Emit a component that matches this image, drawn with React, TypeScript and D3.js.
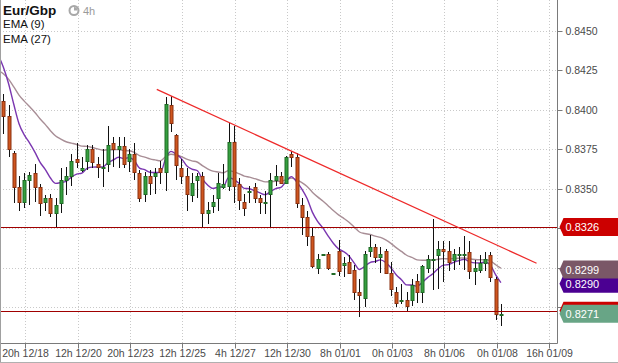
import { useEffect, useRef } from "react";
import * as d3 from "d3";

// 4h candles, EUR/GBP
const opens = [
  0.8406, 0.8396, 0.8373, 0.8351, 0.8342, 0.8356, 0.836, 0.8351, 0.8342, 0.8344,
  0.8335, 0.8341, 0.8356, 0.8358, 0.8369, 0.8362, 0.8368, 0.8375, 0.8366, 0.8363,
  0.8366, 0.8379, 0.8375, 0.8377, 0.8368, 0.8372, 0.836, 0.8347, 0.8358, 0.8358,
  0.8363, 0.8361, 0.8403, 0.8384, 0.8363, 0.8358, 0.8346, 0.8356, 0.8358, 0.8335,
  0.8339, 0.8344, 0.8351, 0.8352, 0.838, 0.8353, 0.8342, 0.8348, 0.8351, 0.8344,
  0.8341, 0.8347, 0.8356, 0.8358, 0.8354, 0.8372, 0.837, 0.834, 0.8332, 0.832,
  0.83, 0.8308, 0.8309, 0.8296, 0.8311, 0.8302, 0.8304, 0.8299, 0.8285, 0.8281,
  0.8311, 0.8313, 0.8307, 0.8311, 0.8297, 0.8285, 0.8279, 0.828, 0.828, 0.8292,
  0.8285, 0.83, 0.8305, 0.8308, 0.8312, 0.8311, 0.8305, 0.8308, 0.8308, 0.831,
  0.8298, 0.8299, 0.8303, 0.8308, 0.8293, 0.827,
];
const highs = [
  0.841, 0.8403, 0.8374, 0.8358, 0.836, 0.8361, 0.8366, 0.8353, 0.8346, 0.8347,
  0.8344, 0.8363, 0.8364, 0.8372, 0.8379, 0.837, 0.8378, 0.8378, 0.837, 0.8375,
  0.839, 0.8383, 0.8383, 0.8383, 0.8375, 0.8379, 0.8362, 0.8361, 0.8362, 0.8363,
  0.8368, 0.8408, 0.8409, 0.8385, 0.8369, 0.8363, 0.836, 0.836, 0.8361, 0.8342,
  0.8346, 0.836, 0.8366, 0.8392, 0.839, 0.8357, 0.8347, 0.8352, 0.8354, 0.8346,
  0.8349, 0.836, 0.8365, 0.8361, 0.8371, 0.8374, 0.8373, 0.8344, 0.8336, 0.8326,
  0.8309, 0.8309, 0.831, 0.8297, 0.8318, 0.8307, 0.8308, 0.8302, 0.8293, 0.8311,
  0.8321, 0.8315, 0.8313, 0.8312, 0.8304, 0.8288, 0.829, 0.8285, 0.8293, 0.8296,
  0.8302, 0.8308, 0.8331, 0.8317, 0.8317, 0.8317, 0.8312, 0.8313, 0.832, 0.8317,
  0.8305, 0.8308, 0.831, 0.831, 0.8294, 0.8277,
];
const lows = [
  0.8385, 0.837, 0.8341, 0.8336, 0.8338, 0.834, 0.8342, 0.8333, 0.8336, 0.8332,
  0.8326, 0.8335, 0.8346, 0.8352, 0.8363, 0.8361, 0.8362, 0.8363, 0.8357, 0.8351,
  0.8361, 0.8364, 0.8363, 0.8363, 0.8361, 0.8356, 0.8342, 0.8342, 0.8346, 0.8347,
  0.8353, 0.8349, 0.8386, 0.8356, 0.8353, 0.8336, 0.8342, 0.8344, 0.8326, 0.8328,
  0.8335, 0.8336, 0.835, 0.8349, 0.8341, 0.8337, 0.8333, 0.8341, 0.8341, 0.8334,
  0.8334, 0.8326, 0.8352, 0.8353, 0.8353, 0.8364, 0.8338, 0.8321, 0.8314, 0.83,
  0.8296, 0.8308, 0.8299, 0.8296, 0.8295, 0.8294, 0.8296, 0.828, 0.8269, 0.8275,
  0.8307, 0.8303, 0.8297, 0.8296, 0.8282, 0.8275, 0.8277, 0.8273, 0.8276, 0.8278,
  0.8278, 0.8297, 0.8286, 0.8287, 0.8291, 0.8298, 0.8299, 0.8302, 0.8299, 0.8293,
  0.8289, 0.8297, 0.8298, 0.8291, 0.8267, 0.8263,
];
const closes = [
  0.8396, 0.8375, 0.8351, 0.8342, 0.8356, 0.8359, 0.8351, 0.8341, 0.8344, 0.8335,
  0.834, 0.8356, 0.8358, 0.8368, 0.8367, 0.8363, 0.8375, 0.8367, 0.8364, 0.8364,
  0.8378, 0.8375, 0.8377, 0.8366, 0.8372, 0.8361, 0.8344, 0.8358, 0.8354, 0.836,
  0.8361, 0.8404, 0.8392, 0.8365, 0.8358, 0.8347, 0.8354, 0.8358, 0.8335, 0.8337,
  0.8342, 0.8354, 0.8353, 0.838, 0.8352, 0.8343, 0.8338, 0.8349, 0.8344, 0.8342,
  0.8342, 0.8356, 0.8358, 0.8354, 0.837, 0.837, 0.8341, 0.8332, 0.832, 0.8301,
  0.8306, 0.8309, 0.83, 0.8297, 0.8298, 0.8303, 0.8297, 0.8285, 0.8283, 0.8309,
  0.8313, 0.8307, 0.8309, 0.8297, 0.8287, 0.8278, 0.828, 0.8276, 0.8289, 0.8285,
  0.8301, 0.8306, 0.8306, 0.8312, 0.8311, 0.8304, 0.8309, 0.8309, 0.8309, 0.8298,
  0.83, 0.8303, 0.8306, 0.8294, 0.8271, 0.8271,
];

// EMA values just before the first visible candle
const ema9Prior = 0.8435;
const ema27Prior = 0.8425;
// last EMA values as printed on the price tags
const ema9Tag = 0.829;
const ema27Tag = 0.8299;

const xTickIdx = [4.2, 14.2, 24.2, 34.2, 44.2, 54.2, 64.2, 74.2, 84.2, 94.2, 104.2];
const xTickLabels = [
  "20h 12/18", "12h 12/20", "20h 12/23", "12h 12/25", "4h 12/27", "12h 12/30",
  "8h 01/01", "0h 01/03", "8h 01/06", "0h 01/08", "16h 01/09",
];
const yTicks = [0.8475, 0.845, 0.8425, 0.84, 0.8375, 0.835, 0.8325, 0.83, 0.8275, 0.825];

const hLines = [0.8326, 0.8273];
const trendIdx = [29.3, 101.8];
const trendPrice = [0.8413, 0.8303];

export default function App() {
  const ref = useRef<SVGSVGElement>(null);

  useEffect(() => {
    if (!ref.current) return;
    const svg = d3.select(ref.current);
    svg.selectAll("*").remove();

    const W = 618;
    const H = 363;
    const plotR = 557.5;
    const plotB = 343.5;
    const font = "'Liberation Sans', Arial, sans-serif";
    const fmt = d3.format(".4f");
    const lastClose = closes[closes.length - 1];

    const x = d3.scaleLinear().domain([-0.63, 105.8]).range([0, plotR]);
    const y = d3.scaleLinear().domain([0.835, 0.845]).range([189, 31]);

    svg.append("rect").attr("width", W).attr("height", H).attr("fill", "#fff");

    svg
      .append("defs")
      .append("clipPath")
      .attr("id", "plot")
      .append("rect")
      .attr("x", 0)
      .attr("y", 0)
      .attr("width", plotR)
      .attr("height", plotB);

    // grid
    const grid = svg.append("g").attr("stroke", "#c9c9c9").attr("stroke-dasharray", "1,2");
    yTicks.forEach((t) => {
      const yy = Math.round(y(t)) + 0.5;
      if (yy < 0 || yy > plotB) return;
      grid.append("line").attr("x1", 0).attr("x2", plotR).attr("y1", yy).attr("y2", yy);
    });
    xTickIdx.forEach((t) => {
      const xx = Math.round(x(t)) + 0.5;
      grid.append("line").attr("x1", xx).attr("x2", xx).attr("y1", 0).attr("y2", plotB);
    });

    const plot = svg.append("g").attr("clip-path", "url(#plot)");

    // EMAs
    const emaOf = (n: number, prior: number) => {
      const k = 2 / (n + 1);
      const out: [number, number][] = [[-1, prior]];
      let e = prior;
      closes.forEach((c, i) => {
        e = e + k * (c - e);
        out.push([i, e]);
      });
      return out;
    };
    const line = d3
      .line<[number, number]>()
      .x((d) => x(d[0]))
      .y((d) => y(d[1]))
      .curve(d3.curveMonotoneX);
    plot
      .append("path")
      .attr("d", line(emaOf(27, ema27Prior)))
      .attr("fill", "none")
      .attr("stroke", "#a88e96")
      .attr("stroke-width", 1.4);
    plot
      .append("path")
      .attr("d", line(emaOf(9, ema9Prior)))
      .attr("fill", "none")
      .attr("stroke", "#7a36b0")
      .attr("stroke-width", 1.4);

    // candles
    const cg = plot.append("g");
    d3.range(closes.length).forEach((i) => {
      const cx = Math.round(x(i)) + 0.5;
      const up = closes[i] >= opens[i];
      cg.append("line")
        .attr("x1", cx)
        .attr("x2", cx)
        .attr("y1", Math.round(y(highs[i])))
        .attr("y2", Math.round(y(lows[i])))
        .attr("stroke", "#111")
        .attr("stroke-width", 1);
      const top = Math.round(y(Math.max(opens[i], closes[i])));
      const bot = Math.round(y(Math.min(opens[i], closes[i])));
      cg.append("rect")
        .attr("x", cx - 1.5)
        .attr("y", top + 0.5)
        .attr("width", 3)
        .attr("height", Math.max(1, bot - top))
        .attr("fill", up ? "#35a03f" : "#d0561e")
        .attr("stroke", up ? "#1f6a25" : "#8a3010")
        .attr("stroke-width", 1);
    });

    // horizontal levels and trend line
    hLines.forEach((p) => {
      const yy = Math.round(y(p)) + 0.5;
      plot
        .append("line")
        .attr("x1", 0)
        .attr("x2", plotR)
        .attr("y1", yy)
        .attr("y2", yy)
        .attr("stroke", "#a00000")
        .attr("stroke-width", 1);
    });
    plot
      .append("line")
      .attr("x1", x(trendIdx[0]))
      .attr("y1", y(trendPrice[0]))
      .attr("x2", x(trendIdx[1]))
      .attr("y2", y(trendPrice[1]))
      .attr("stroke", "#ee2a2a")
      .attr("stroke-width", 1.3);

    // axes frame
    const frame = svg.append("g").attr("stroke", "#7a7a7a").attr("stroke-width", 1);
    frame.append("line").attr("x1", plotR).attr("x2", plotR).attr("y1", 0).attr("y2", plotB);
    frame.append("line").attr("x1", 0).attr("x2", plotR).attr("y1", plotB).attr("y2", plotB);
    svg.append("line").attr("x1", 0.5).attr("x2", 0.5).attr("y1", 0).attr("y2", H).attr("stroke", "#a0a0a0");
    svg.append("line").attr("x1", 0).attr("x2", W).attr("y1", H - 0.5).attr("y2", H - 0.5).attr("stroke", "#b0b0b0");

    // right axis (tick labels under a price tag are not shown)
    const tagPrices = [hLines[0], ema9Tag, ema27Tag, hLines[1], lastClose];
    yTicks.forEach((t) => {
      const yy = Math.round(y(t)) + 0.5;
      if (yy < 0 || yy > plotB) return;
      svg.append("line").attr("x1", plotR).attr("x2", plotR + 5).attr("y1", yy).attr("y2", yy).attr("stroke", "#7a7a7a");
      if (tagPrices.some((p) => Math.abs(y(p) - yy) < 11)) return;
      svg
        .append("text")
        .attr("x", plotR + 8)
        .attr("y", yy)
        .attr("dy", "0.35em")
        .style("font-family", font)
        .style("font-size", "10.5px")
        .attr("fill", "#4a4a4a")
        .text(fmt(t));
    });

    // bottom axis
    xTickIdx.forEach((t, i) => {
      const xx = Math.round(x(t)) + 0.5;
      svg.append("line").attr("x1", xx).attr("x2", xx).attr("y1", plotB).attr("y2", plotB + 5).attr("stroke", "#7a7a7a");
      svg
        .append("text")
        .attr("x", xx)
        .attr("y", 357)
        .attr("text-anchor", "middle")
        .style("font-family", font)
        .style("font-size", "10.5px")
        .attr("fill", "#4a4a4a")
        .text(xTickLabels[i]);
    });

    // price tags
    const tag = (p: number, color: string, label: string) => {
      const cy = y(p);
      const g = svg.append("g");
      g.append("path")
        .attr("d", `M${plotR + 2},${cy} L${plotR + 6},${cy - 9} L${W},${cy - 9} L${W},${cy + 9} L${plotR + 6},${cy + 9} Z`)
        .attr("fill", color);
      if (label)
        g.append("text")
          .attr("x", plotR + 8)
          .attr("y", cy)
          .attr("dy", "0.36em")
          .style("font-family", font)
          .style("font-size", "11px")
          .attr("fill", "#fff")
          .text(label);
    };
    tag(hLines[0], "#cc0000", fmt(hLines[0]));
    tag(ema9Tag, "#4b0092", fmt(ema9Tag));
    tag(ema27Tag, "#7a5767", fmt(ema27Tag));
    tag(hLines[1], "#cc0000", "");
    tag(lastClose, "#68a586", fmt(lastClose));

    // legend
    svg
      .append("text")
      .attr("x", 3)
      .attr("y", 15)
      .style("font-family", font)
      .style("font-size", "13.5px")
      .style("font-weight", "bold")
      .attr("fill", "#111")
      .text("Eur/Gbp");
    svg.append("circle").attr("cx", 74).attr("cy", 10.5).attr("r", 4.5).attr("fill", "#fff").attr("stroke", "#a8a8a8").attr("stroke-width", 2);
    svg.append("path").attr("d", "M74,10.5 L74,7 A3.5,3.5 0 0 1 77.5,10.5 Z").attr("fill", "#a8a8a8");
    svg
      .append("text")
      .attr("x", 83)
      .attr("y", 14.5)
      .style("font-family", font)
      .style("font-size", "11px")
      .attr("fill", "#9a9a9a")
      .text("4h");
    ["EMA (9)", "EMA (27)"].forEach((s, i) => {
      svg
        .append("text")
        .attr("x", 3)
        .attr("y", 28 + i * 15)
        .style("font-family", font)
        .style("font-size", "11.5px")
        .attr("fill", "#111")
        .text(s);
    });
  }, []);

  return (
    <svg
      ref={ref}
      width={618}
      height={363}
      style={{ position: "absolute", left: 0, top: 0, display: "block" }}
    />
  );
}
